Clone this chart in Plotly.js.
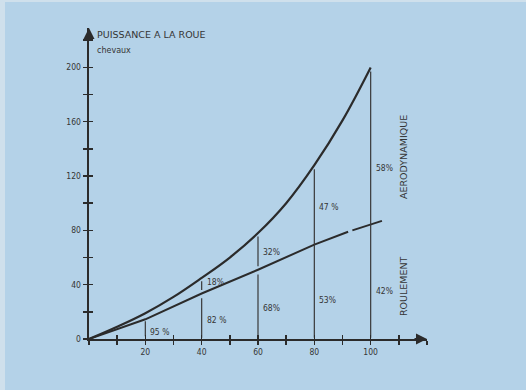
<!DOCTYPE html>
<html>
<head>
<meta charset="utf-8">
<script src="https://cdn.plot.ly/plotly-3.0.1.min.js"></script>
<style>
html,body{margin:0;padding:0;background:#b4d2e8;}
#wrap{position:relative;width:526px;height:390px;}
#chart{position:absolute;left:0;top:0;width:526px;height:390px;}
#edgeL{position:absolute;left:0;top:0;width:5px;height:390px;background:#cfe0ec;pointer-events:none;}
#edgeT{position:absolute;left:0;top:0;width:526px;height:2px;background:#cfe0ec;pointer-events:none;}
</style>
</head>
<body>
<div id="wrap"><div id="chart"></div><div id="edgeL"></div><div id="edgeT"></div></div>
<script>
// ---- data ----
const speedTotal = [0, 10, 20, 30, 40, 50, 60, 70, 80, 90, 100];
const powerTotal = [0, 9, 19, 31, 45, 60, 78, 100, 128, 161, 200];   // puissance totale (chevaux)
const speedRoll  = [0, 20, 40, 60, 80, 92, 93.5, 100, 104];
const powerRoll  = [0, 14.5, 33.5, 51, 69.5, 79, 80, 84, 87];       // roulement (gap near 92-93.5)
const rollGap    = [false, false, false, false, false, true, false, false, false];
const markSpeeds = [20, 40, 60, 80, 100];
const rollPct    = ["95 %", "82 %", "68%", "53%", "42%"];
const aeroPct    = [null, "18%", "32%", "47 %", "58%"];
const xTickVals  = [20, 40, 60, 80, 100];
const xTickText  = ["20", "40", "60", "80", "100"];
const yTickVals  = [0, 40, 80, 120, 160, 200];
const yTickText  = ["0", "40", "80", "120", "160", "200"];

// ---- layout helpers (positions) ----
const ink = "#2b2b2b";
const txt = "#353535";
const rollLabelY = [5, 14, 23, 29, 35];
const aeroLabelY = [null, 42, 64, 97, 126];
const gapAt = [false, true, true, false, false];
const lblFont = {family: "DejaVu Sans Condensed", size: 8.5, color: txt};
const bigFont = {family: "DejaVu Sans", size: 9.5, color: txt};

function lerp(xs, ys, x) {
  for (let i = 0; i < xs.length - 1; i++) {
    if (x >= xs[i] && x <= xs[i + 1]) {
      const t = (x - xs[i]) / (xs[i + 1] - xs[i]);
      return ys[i] + t * (ys[i + 1] - ys[i]);
    }
  }
  return ys[ys.length - 1];
}

const rx = [], ry = [];
speedRoll.forEach((s, i) => {
  rx.push(s); ry.push(powerRoll[i]);
  if (rollGap[i]) { rx.push(null); ry.push(null); }
});

const vx = [], vy = [];
markSpeeds.forEach((s, i) => {
  const tot = lerp(speedTotal, powerTotal, s);
  const rol = lerp(speedRoll, powerRoll, s);
  if (i === 0) {
    vx.push(s, s, null); vy.push(2, rol - 1.5, null);
  } else if (gapAt[i]) {
    vx.push(s, s, null, s, s, null);
    vy.push(1, rol - 3.5, null, rol + 2.5, tot - 2.5, null);
  } else {
    vx.push(s, s, null); vy.push(1, tot - 3, null);
  }
});

const traces = [
  {x: speedTotal, y: powerTotal, mode: "lines", line: {color: ink, width: 2.2, shape: "spline", smoothing: 1.1}, hoverinfo: "skip"},
  {x: rx, y: ry, mode: "lines", line: {color: ink, width: 2}, connectgaps: false, hoverinfo: "skip"},
  {x: vx, y: vy, mode: "lines", line: {color: "#383838", width: 1.2}, connectgaps: false, hoverinfo: "skip"},
  {x: [], y: [], xaxis: "x2", yaxis: "y2", hoverinfo: "skip"}
];

const annotations = [];
markSpeeds.forEach((s, i) => {
  annotations.push({x: s, y: rollLabelY[i], text: rollPct[i], showarrow: false, xanchor: "left", xshift: 3, font: lblFont});
  if (aeroPct[i]) {
    annotations.push({x: s, y: aeroLabelY[i], text: aeroPct[i], showarrow: false, xanchor: "left", xshift: 3, font: lblFont});
  }
});
annotations.push(
  {x: 111.5, y: 134, text: "AERODYNAMIQUE", textangle: -90, showarrow: false, font: bigFont},
  {x: 111.5, y: 39, text: "ROULEMENT", textangle: -90, showarrow: false, font: bigFont},
  {x: 2, y: 224, text: "PUISSANCE A LA ROUE", showarrow: false, xanchor: "left",
   font: {family: "DejaVu Sans", size: 9.5, color: txt}},
  {x: 2.3, y: 212.5, text: "chevaux", showarrow: false, xanchor: "left",
   font: {family: "DejaVu Sans", size: 8, color: txt}},
  {x: 93.5, y: -21, text: "V I T E S S E  K M / H", showarrow: false,
   font: {family: "DejaVu Sans Condensed", size: 9, color: txt}},
  {x: 120, y: 0, ax: -14, ay: 0, showarrow: true, arrowhead: 2, arrowsize: 1.1, arrowwidth: 2, arrowcolor: ink, text: ""},
  {x: 0, y: 229, ax: 0, ay: 14, showarrow: true, arrowhead: 2, arrowsize: 1.1, arrowwidth: 2, arrowcolor: ink, text: ""}
);

const baseX = {range: [0, 120], showgrid: false, zeroline: false, fixedrange: true};
const baseY = {range: [0, 229], showgrid: false, zeroline: false, fixedrange: true};
const tickFont = {family: "DejaVu Sans Condensed", size: 8.5, color: txt};

const layout = {
  width: 526, height: 390,
  margin: {l: 89, r: 99, t: 28, b: 51},
  paper_bgcolor: "rgba(0,0,0,0)",
  plot_bgcolor: "rgba(0,0,0,0)",
  showlegend: false,
  xaxis: Object.assign({}, baseX, {
    showline: true, linecolor: ink, linewidth: 2,
    ticks: "outside", ticklen: 4, tickwidth: 1.5, tickcolor: ink,
    tickvals: xTickVals, ticktext: xTickText,
    minor: {dtick: 10, tick0: 0, ticks: "outside", ticklen: 4, tickwidth: 1.5, tickcolor: ink},
    tickfont: tickFont
  }),
  yaxis: Object.assign({}, baseY, {
    showline: true, linecolor: ink, linewidth: 2.4,
    ticks: "outside", ticklen: 4, tickwidth: 1.5, tickcolor: ink,
    tickvals: yTickVals, ticktext: yTickText,
    minor: {dtick: 20, tick0: 0, ticks: "outside", ticklen: 4, tickwidth: 1.5, tickcolor: ink},
    tickfont: tickFont
  }),
  xaxis2: Object.assign({}, baseX, {
    overlaying: "x", anchor: "y2", showline: false, showticklabels: false,
    tickmode: "linear", tick0: 0, dtick: 10, ticks: "inside", ticklen: 4, tickwidth: 1.5, tickcolor: ink
  }),
  yaxis2: Object.assign({}, baseY, {
    overlaying: "y", anchor: "x2", showline: false, showticklabels: false,
    tickmode: "linear", tick0: 0, dtick: 20, ticks: "inside", ticklen: 4, tickwidth: 1.5, tickcolor: ink
  }),
  annotations: annotations
};

Plotly.newPlot("chart", traces, layout, {staticPlot: true, displayModeBar: false});
</script>
</body>
</html>
